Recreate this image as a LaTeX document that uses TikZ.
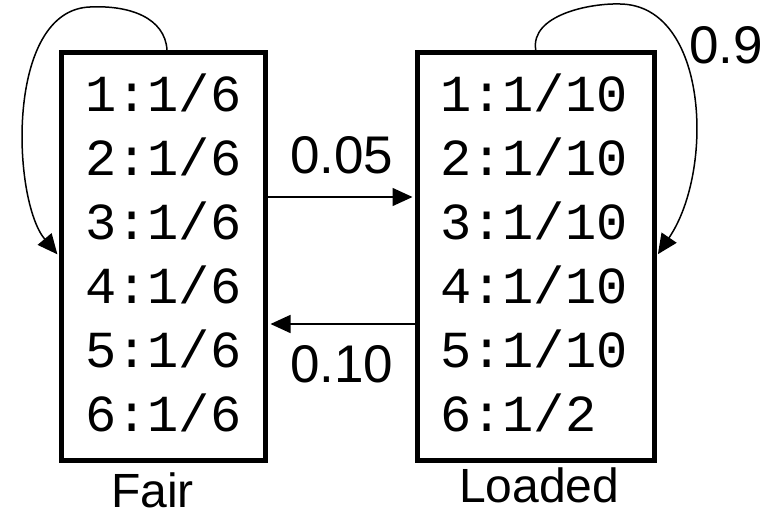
\documentclass[tikz,border=0pt]{standalone}
\usepackage{fontspec}
\newfontfamily\monofnt{Liberation Mono}
\newfontfamily\sansfnt{Liberation Sans}
\usetikzlibrary{arrows.meta}
\begin{document}
\begin{tikzpicture}[x=1pt,y=-1pt,
  statebox/.style={draw,line width=5pt,inner sep=0pt,minimum height=407.5pt},
  cell/.style={anchor=base west,inner sep=0pt,font=\monofnt\fontsize{52}{52}\selectfont},
  prob/.style={anchor=base west,inner sep=0pt,font=\sansfnt\fontsize{53}{53}\selectfont},
  statelabel/.style={anchor=base west,inner sep=0pt,font=\sansfnt\fontsize{48}{48}\selectfont},
  conn/.style={line width=1.5pt,-{Triangle[length=20pt,width=18pt]}}]
\useasboundingbox (0,0) rectangle (775,516);
\node[statebox,minimum width=204pt] (fair) at (163.5,256.25) {};
\node[statebox,minimum width=236.5pt] (loaded) at (535.75,256.25) {};
\foreach \i/\t in {1/1:1\slash 6,2/2:1\slash 6,3/3:1\slash 6,4/4:1\slash 6,5/5:1\slash 6,6/6:1\slash 6}
  \node[cell] (f\i) at (85,{111+64*(\i-1)}) {\t};
\foreach \i/\t in {1/1:1\slash 10,2/2:1\slash 10,3/3:1\slash 10,4/4:1\slash 10,5/5:1\slash 10,6/6:1\slash 2}
  \node[cell] (l\i) at (440,{111+64*(\i-1)}) {\t};
\draw[conn,shorten >=2.5pt] ([yshift=59.25pt]fair.east) -- ([yshift=59.25pt]loaded.west);
\draw[conn,shorten >=2.5pt] ([yshift=-67.75pt]loaded.west) -- ([yshift=-67.75pt]fair.east);
\draw[conn,shorten >=2.5pt] ([xshift=3.5pt]fair.north) .. controls (165,18) and (130,5) .. (90,7)
  .. controls (5,10) and (12,200) .. (fair.west);
\draw[conn,shorten >=2.5pt] (loaded.north) .. controls (530,15) and (590,3) .. (620,4)
  .. controls (708,5) and (715,170) .. (loaded.east);
\node[prob] (p05) at (290,173) {0.05};
\node[prob] (p10) at (290,382) {0.10};
\node[prob] (p9) at (689,64) {0.9};
\node[statelabel] (nfair) at (111,507) {Fair};
\node[statelabel] (nloaded) at (459,502) {Loaded};
\end{tikzpicture}
\end{document}
